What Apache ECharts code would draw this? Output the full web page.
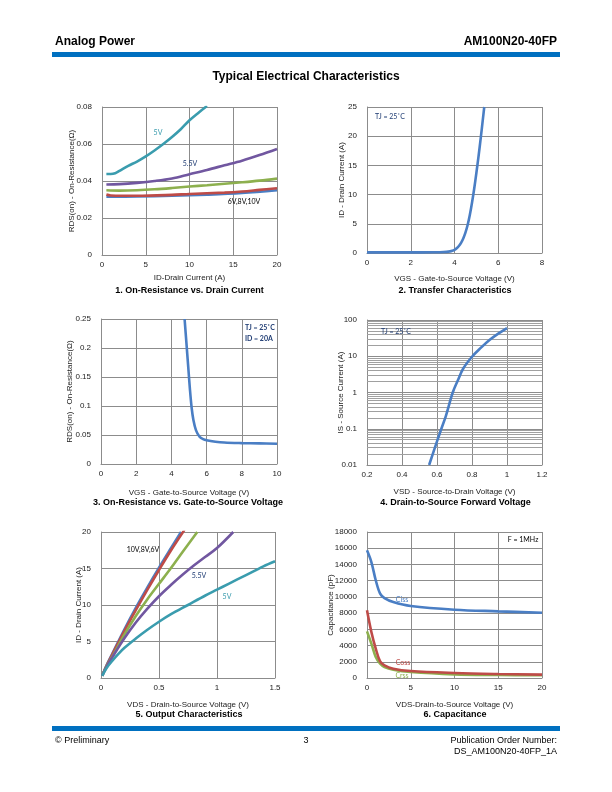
<!DOCTYPE html>
<html><head><meta charset="utf-8">
<script src="https://cdn.jsdelivr.net/npm/echarts@6/dist/echarts.min.js"></script>
<style>html,body{margin:0;padding:0;background:#fff}#c{width:612px;height:792px}</style>
</head><body><div id="c"></div>
<script>
// ---------- DATA ----------
// Chart 1: RDS(on) vs ID
const c1_5V   = [[0.5,0.0438],[1,0.0438],[1.5,0.0442],[2,0.0455],[3,0.0482],[4,0.0505],[5,0.0533],[6,0.0565],[7,0.0600],[8,0.0638],[9,0.0680],[10,0.0728],[11,0.0768],[12,0.0805]];
const c1_55V  = [[0.5,0.0381],[2,0.0383],[4,0.0390],[6,0.0400],[8,0.0414],[10,0.0437],[12,0.0460],[14,0.0485],[16,0.0510],[18,0.0540],[20,0.0573]];
const c1_6V   = [[0.5,0.0350],[2,0.0348],[4,0.0350],[6,0.0355],[8,0.0362],[10,0.0370],[12,0.0377],[14,0.0385],[16,0.0393],[18,0.0402],[20,0.0413]];
const c1_8V   = [[0.5,0.0327],[1,0.0322],[4,0.0320],[8,0.0325],[10,0.0330],[14,0.0337],[16,0.0343],[18,0.0352],[20,0.0361]];
const c1_10V  = [[0.5,0.0315],[4,0.0316],[8,0.0320],[12,0.0326],[16,0.0335],[20,0.0350]];
// Chart 2: Transfer
const c2_id = [[0,0.1],[1,0.1],[2,0.1],[3,0.12],[3.5,0.16],[3.8,0.28],[3.9,0.38],[4.0,0.55],[4.1,0.82],[4.2,1.2],[4.3,1.75],[4.4,2.5],[4.5,3.5],[4.6,4.8],[4.7,6.5],[4.8,8.6],[4.9,11.0],[5.0,13.7],[5.1,16.6],[5.2,19.7],[5.3,23.0],[5.36,25]];
// Chart 3: RDS(on) vs VGS
const c3_rds = [[4.75,0.25],[4.85,0.21],[4.95,0.17],[5.05,0.13],[5.15,0.097],[5.25,0.076],[5.4,0.058],[5.6,0.047],[5.8,0.043],[6.0,0.041],[6.5,0.0385],[7,0.037],[8,0.036],[9,0.0355],[10,0.035]];
// Chart 4: Body diode forward
const c4_is = [[0.555,0.01],[0.6,0.045],[0.625,0.1],[0.65,0.22],[0.69,1.0],[0.72,2.2],[0.75,4.6],[0.8,9.7],[0.85,17],[0.9,28],[0.95,42],[1.0,60]];
const c4_minor = [0.02,0.03,0.04,0.05,0.06,0.07,0.08,0.09,0.2,0.3,0.4,0.5,0.6,0.7,0.8,0.9,2,3,4,5,6,7,8,9,20,30,40,50,60,70,80,90];
// Chart 5: Output
const c5_10V = [[0.01,0.3],[0.05,1.8],[0.1,3.4],[0.2,6.6],[0.3,9.6],[0.4,12.4],[0.5,15.1],[0.6,17.7],[0.69,20.0]];
const c5_8V  = [[0.01,0.3],[0.05,1.75],[0.1,3.3],[0.2,6.4],[0.3,9.3],[0.4,12.1],[0.5,14.8],[0.6,17.4],[0.72,20.3]];
const c5_6V  = [[0.01,0.3],[0.05,1.65],[0.1,3.0],[0.2,5.9],[0.3,8.5],[0.4,10.8],[0.5,12.9],[0.6,15.0],[0.7,17.2],[0.83,20.0]];
const c5_55V = [[0.01,0.3],[0.05,1.6],[0.1,2.9],[0.2,5.4],[0.3,7.6],[0.4,9.5],[0.5,11.2],[0.6,12.7],[0.7,14.1],[0.8,15.4],[0.9,16.6],[1.0,17.8],[1.14,20.0]];
const c5_5V  = [[0.01,0.3],[0.05,1.4],[0.1,2.4],[0.15,3.3],[0.2,4.1],[0.3,5.4],[0.4,6.6],[0.5,7.7],[0.6,8.7],[0.75,10.0],[0.9,11.3],[1.0,12.1],[1.1,12.9],[1.25,14.1],[1.4,15.3],[1.5,16.0]];
// Chart 6: Capacitance
const c6_ciss = [[0,15750],[0.5,14300],[1,12050],[1.5,10400],[2,9850],[3,9370],[5,8880],[10,8420],[15,8220],[20,8050]];
const c6_coss = [[0,8340],[0.5,5670],[1,3620],[1.5,2050],[2,1560],[3,1150],[5,860],[10,620],[15,490],[20,410]];
const c6_crss = [[0,5750],[0.5,4230],[1,2590],[1.5,1770],[2,1360],[3,1030],[5,740],[10,450],[15,370],[20,330]];

// ---------- STYLE ----------
const FONT = '"Liberation Sans", Arial, sans-serif';
const LFONT = 'Lato, "Open Sans", sans-serif';
const GRID_C = '#8c8c8c';
const COL = {blue:'#4a7ec4', red:'#be4b48', green:'#8db04e', purple:'#7157a0', teal:'#3a9cae', navy:'#1f3c73'};

const grids = [
  {left:102, top:107, width:175, height:148},
  {left:367, top:107, width:175, height:146},
  {left:101, top:319, width:176, height:145},
  {left:367, top:320, width:175, height:145},
  {left:101, top:532, width:174, height:146},
  {left:367, top:532, width:175, height:146}
];

function xAx(i, min, max, interval, name, gap) {
  return {gridIndex:i, type:'value', min, max, interval, name, nameLocation:'middle', nameGap:gap, nameMoveOverlap:false,
    nameTextStyle:{fontFamily:FONT, fontSize:8, color:'#222'},
    axisLine:{show:true, lineStyle:{color:GRID_C, width:1}}, axisTick:{show:false},
    axisLabel:{fontFamily:FONT, fontSize:8, color:'#222', margin:6},
    splitLine:{show:true, lineStyle:{color:GRID_C, width:1}}};
}
function yAx(i, min, max, interval, name, gap, extra) {
  return Object.assign({gridIndex:i, type:'value', min, max, interval, name, nameLocation:'middle', nameGap:gap, nameMoveOverlap:false,
    nameTextStyle:{fontFamily:FONT, fontSize:8, color:'#222'},
    axisLine:{show:true, lineStyle:{color:GRID_C, width:1}}, axisTick:{show:false},
    axisLabel:{fontFamily:FONT, fontSize:8, color:'#222', margin:10, formatter:v=>String(v)},
    splitLine:{show:true, lineStyle:{color:GRID_C, width:1}}}, extra||{});
}
function ln(i, data, color, z) {
  return {type:'line', xAxisIndex:i, yAxisIndex:i, data, symbol:'none', smooth:0.35, z:z||3,
    lineStyle:{color, width:2.6}, itemStyle:{color}, silent:true, clip:true};
}
function txt(x, y, s, o) {
  return {type:'text', x, y, z:50, style:Object.assign({text:s, fontFamily:FONT, fontSize:8, fill:'#000', textAlign:'center', textVerticalAlign:'middle'}, o||{})};
}

const xAxes = [
  xAx(0, 0, 20, 5, 'ID-Drain Current (A)', 19),
  xAx(1, 0, 8, 2, 'VGS - Gate-to-Source Voltage (V)', 22),
  xAx(2, 0, 10, 2, 'VGS - Gate-to-Source Voltage (V)', 25),
  xAx(3, 0.2, 1.2, 0.2, 'VSD - Source-to-Drain Voltage (V)', 23),
  xAx(4, 0, 1.5, 0.5, 'VDS - Drain-to-Source Voltage (V)', 23),
  xAx(5, 0, 20, 5, 'VDS-Drain-to-Source Voltage (V)', 23)
];
const yAxes = [
  yAx(0, 0, 0.08, 0.02, 'RDS(on) - On-Resistance(Ω)', 26),
  yAx(1, 0, 25, 5, 'ID - Drain Current (A)', 21),
  yAx(2, 0, 0.25, 0.05, 'RDS(on) - On-Resistance(Ω)', 27),
  yAx(3, 0.01, 100, null, 'IS - Source Current (A)', 22, {type:'log', logBase:10, interval:undefined}),
  yAx(4, 0, 20, 5, 'ID - Drain Current (A)', 18),
  yAx(5, 0, 18000, 2000, 'Capacitance (pF)', 32)
];

const minorMark = {silent:true, symbol:['none','none'], z:1, label:{show:false},
  lineStyle:{color:'#a0a0a0', width:1, type:'solid'}, emphasis:{disabled:true},
  data:c4_minor.map(v=>({yAxis:v}))};

const series = [
  ln(0, c1_10V, COL.blue, 3), ln(0, c1_8V, COL.red, 4), ln(0, c1_6V, COL.green, 4), ln(0, c1_55V, COL.purple, 4), ln(0, c1_5V, COL.teal, 4),
  ln(1, c2_id, COL.blue),
  ln(2, c3_rds, COL.blue),
  Object.assign(ln(3, c4_is, COL.blue), {markLine:minorMark}),
  ln(4, c5_10V, COL.blue, 3), ln(4, c5_8V, COL.red, 4), ln(4, c5_6V, COL.green, 4), ln(4, c5_55V, COL.purple, 4), ln(4, c5_5V, COL.teal, 4),
  ln(5, c6_ciss, COL.blue), ln(5, c6_coss, COL.red, 4), ln(5, c6_crss, COL.green, 3)
];

const lab = {fontFamily:LFONT, fontSize:7};
const graphic = [
  // header
  txt(55, 42, 'Analog Power', {textAlign:'left', fontWeight:'bold', fontSize:12}),
  txt(557, 42, 'AM100N20-40FP', {textAlign:'right', fontWeight:'bold', fontSize:12}),
  {type:'rect', shape:{x:52, y:52, width:508, height:5}, style:{fill:'#0070c0'}},
  txt(306, 77, 'Typical Electrical Characteristics', {fontWeight:'bold', fontSize:12}),
  // chart titles
  txt(189.5, 291, '1. On-Resistance vs. Drain Current', {fontWeight:'bold', fontSize:9}),
  txt(455, 291, '2. Transfer Characteristics', {fontWeight:'bold', fontSize:9}),
  txt(188, 503, '3. On-Resistance vs. Gate-to-Source Voltage', {fontWeight:'bold', fontSize:9}),
  txt(455.5, 503, '4. Drain-to-Source Forward Voltage', {fontWeight:'bold', fontSize:9}),
  txt(189, 715, '5. Output Characteristics', {fontWeight:'bold', fontSize:9}),
  txt(455, 715, '6. Capacitance', {fontWeight:'bold', fontSize:9}),
  // in-plot labels
  txt(158, 132.5, '5V', Object.assign({fill:COL.teal}, lab)),
  txt(190, 164, '5.5V', Object.assign({fill:COL.navy}, lab)),
  txt(244, 201.5, '6V,8V,10V', Object.assign({fill:'#000'}, lab)),
  txt(375, 117, 'TJ = 25˚C', Object.assign({fill:COL.navy, textAlign:'left'}, lab)),
  txt(245, 327.5, 'TJ = 25˚C', Object.assign({fill:COL.navy, textAlign:'left', fontWeight:'bold'}, lab)),
  txt(245, 338.5, 'ID = 20A', Object.assign({fill:COL.navy, textAlign:'left', fontWeight:'bold'}, lab)),
  txt(381, 331.5, 'TJ = 25˚C', Object.assign({fill:COL.navy, textAlign:'left'}, lab)),
  txt(143, 550, '10V,8V,6V', Object.assign({fill:'#000'}, lab)),
  txt(199, 576, '5.5V', Object.assign({fill:COL.navy}, lab)),
  txt(227, 597, '5V', Object.assign({fill:COL.teal}, lab)),
  txt(523, 540, 'F = 1MHz', Object.assign({fill:'#000'}, lab)),
  txt(402, 600, 'Ciss', Object.assign({fill:COL.blue}, lab)),
  txt(403, 663, 'Coss', Object.assign({fill:COL.red}, lab)),
  txt(402, 676, 'Crss', Object.assign({fill:COL.green}, lab)),
  // footer
  {type:'rect', shape:{x:52, y:726, width:508, height:5}, style:{fill:'#0070c0'}},
  txt(55, 741, '© Preliminary', {textAlign:'left', fontSize:9}),
  txt(306, 741, '3', {fontSize:9}),
  txt(557, 741, 'Publication Order Number:', {textAlign:'right', fontSize:9}),
  txt(557, 752, 'DS_AM100N20-40FP_1A', {textAlign:'right', fontSize:9})
];

const chart = echarts.init(document.getElementById('c'), null, {renderer:'canvas'});
chart.setOption({
  animation:false,
  backgroundColor:'#fff',
  grid:grids.map(g=>Object.assign({containLabel:false, show:false}, g)),
  xAxis:xAxes,
  yAxis:yAxes,
  series,
  graphic
});
</script></body></html>
